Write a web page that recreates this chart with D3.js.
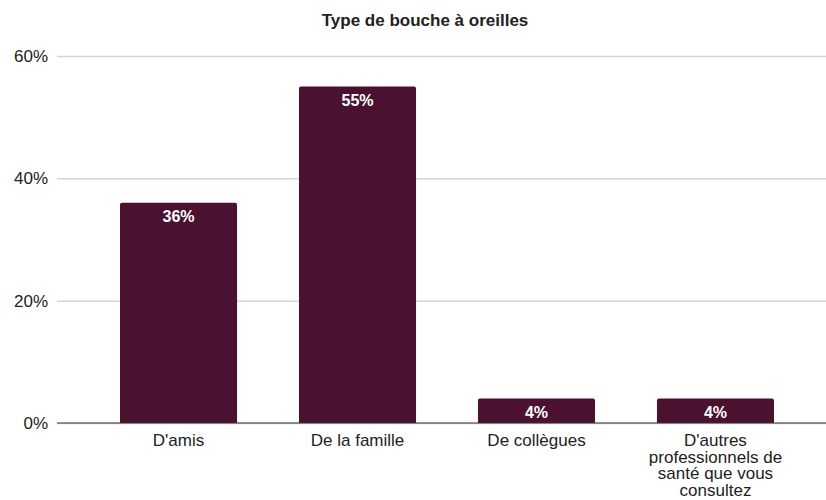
<!DOCTYPE html>
<html>
<head>
<meta charset="utf-8">
<script src="https://cdn.jsdelivr.net/npm/d3@7"></script>
<style>
  body { margin: 0; background: #fff; }
  text { font-family: "Liberation Sans", Arial, sans-serif; }
</style>
</head>
<body>
<script>
(function() {

  var categories = ["D'amis", "De la famille", "De collègues", "D'autres professionnels de santé que vous consultez"];
  var values = [36, 55, 4, 4];
  var yTicks = [0, 20, 40, 60];
  var title = "Type de bouche à oreilles";

  var width = 826, height = 500;
  var left = 57, top = 56, bottom = 423;

  var svg = d3.select("body").append("svg")
      .attr("width", width)
      .attr("height", height);

  var x = d3.scaleBand()
      .domain(categories)
      .range([left, 837])
      .paddingInner(0.346)
      .paddingOuter(0.352);

  var y = d3.scaleLinear()
      .domain([0, 60])
      .range([bottom, top]);

  svg.append("text")
      .attr("x", 425)
      .attr("y", 26)
      .attr("text-anchor", "middle")
      .style("font-weight", "bold")
      .style("font-size", "17px")
      .attr("fill", "#222")
      .text(title);

  // gridlines + y labels
  var yAxis = d3.axisLeft(y)
      .tickValues(yTicks)
      .tickSize(-(width - left))
      .tickPadding(9)
      .tickFormat(function(d) { return d + "%"; });

  var gy = svg.append("g")
      .attr("transform", "translate(" + left + ",0)")
      .call(yAxis);
  gy.select(".domain").remove();
  gy.selectAll(".tick line").attr("stroke", "#d4d4d4").attr("stroke-width", 1.5);
  gy.selectAll(".tick text")
      .attr("fill", "#222")
      .style("font-size", "17px")
      .style("font-family", "Liberation Sans, Arial, sans-serif");

  // bars
  svg.selectAll("path.bar")
      .data(values)
      .enter().append("path")
      .attr("class", "bar")
      .attr("fill", "#4a1130")
      .attr("d", function(d, i) {
        var x0 = x(categories[i]), w = x.bandwidth(), y0 = y(d), r = 2;
        return "M" + x0 + "," + bottom + "V" + (y0 + r) + "Q" + x0 + "," + y0 + " " + (x0 + r) + "," + y0 +
          "H" + (x0 + w - r) + "Q" + (x0 + w) + "," + y0 + " " + (x0 + w) + "," + (y0 + r) + "V" + bottom + "Z";
      });

  svg.selectAll("text.val")
      .data(values)
      .enter().append("text")
      .attr("class", "val")
      .attr("x", function(d, i) { return x(categories[i]) + x.bandwidth() / 2; })
      .attr("y", function(d) { return y(d) + 19; })
      .attr("text-anchor", "middle")
      .attr("fill", "#fff")
      .style("font-weight", "bold")
      .style("font-size", "16px")
      .text(function(d) { return d + "%"; });

  // baseline
  svg.append("line")
      .attr("x1", left).attr("x2", width)
      .attr("y1", y(0)).attr("y2", y(0))
      .attr("stroke", "#333").attr("stroke-width", 1);

  // x labels with wrapping
  var xAxis = d3.axisBottom(x).tickSize(0).tickPadding(0);
  var gx = svg.append("g")
      .attr("transform", "translate(0," + bottom + ")")
      .call(xAxis);
  gx.select(".domain").remove();
  gx.selectAll(".tick text")
      .attr("fill", "#222")
      .style("font-size", "17px")
      .style("font-family", "Liberation Sans, Arial, sans-serif")
      .attr("dy", null)
      .attr("y", 23)
      .call(wrap, 135);

  function wrap(sel, maxW) {
    sel.each(function() {
      var t = d3.select(this), words = t.text().split(/\s+/), line = [], lines = [];
      t.text(null);
      var probe = t.append("tspan");
      words.forEach(function(w) {
        line.push(w);
        probe.text(line.join(" "));
        if (probe.node().getComputedTextLength() > maxW && line.length > 1) {
          line.pop();
          lines.push(line.join(" "));
          line = [w];
        }
      });
      lines.push(line.join(" "));
      probe.remove();
      lines.forEach(function(l, i) {
        t.append("tspan").attr("x", 0).attr("y", 23 + i * 16.7).text(l);
      });
    });
  }

}());
</script>
</body>
</html>
